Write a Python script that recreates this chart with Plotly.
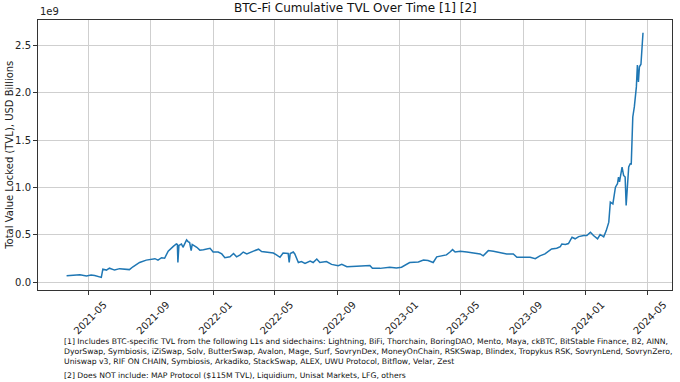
import plotly.graph_objects as go

dates = [
    "2021-03-20", "2021-04-01", "2021-04-15", "2021-04-28", "2021-05-07", "2021-05-14",
    "2021-05-20", "2021-05-27", "2021-05-30", "2021-06-06", "2021-06-12", "2021-06-22",
    "2021-07-02", "2021-07-15", "2021-07-21", "2021-07-28", "2021-08-10", "2021-08-23",
    "2021-09-02", "2021-09-09", "2021-09-15", "2021-09-22", "2021-09-28", "2021-10-05",
    "2021-10-15", "2021-10-21", "2021-10-23", "2021-10-24", "2021-10-26", "2021-10-31",
    "2021-11-03", "2021-11-10", "2021-11-13", "2021-11-16", "2021-11-19", "2021-11-21",
    "2021-11-30", "2021-12-06", "2021-12-13", "2021-12-26", "2022-01-01", "2022-01-11",
    "2022-01-18", "2022-01-24", "2022-02-03", "2022-02-10", "2022-02-16", "2022-02-23",
    "2022-03-01", "2022-03-08", "2022-03-21", "2022-03-31", "2022-04-06", "2022-04-16",
    "2022-04-29", "2022-05-05", "2022-05-12", "2022-05-18", "2022-05-28", "2022-05-30",
    "2022-06-01", "2022-06-07", "2022-06-10", "2022-06-17", "2022-06-23", "2022-06-30",
    "2022-07-10", "2022-07-16", "2022-07-23", "2022-07-29", "2022-08-11", "2022-08-21",
    "2022-09-03", "2022-09-10", "2022-09-20", "2022-10-09", "2022-10-29", "2022-11-04",
    "2022-11-09", "2022-11-24", "2022-12-13", "2022-12-26", "2023-01-05", "2023-01-12",
    "2023-01-21", "2023-02-07", "2023-02-17", "2023-02-26", "2023-03-08", "2023-03-15",
    "2023-03-25", "2023-04-03", "2023-04-10", "2023-04-15", "2023-04-20", "2023-04-30",
    "2023-05-13", "2023-05-26", "2023-06-08", "2023-06-14", "2023-06-24", "2023-07-04",
    "2023-07-17", "2023-07-30", "2023-08-12", "2023-08-19", "2023-09-01", "2023-09-14",
    "2023-09-24", "2023-10-03", "2023-10-13", "2023-10-21", "2023-10-26", "2023-11-05",
    "2023-11-12", "2023-11-15", "2023-11-22", "2023-11-28", "2023-12-05", "2023-12-11",
    "2023-12-18", "2023-12-28", "2024-01-03", "2024-01-10", "2024-01-16", "2024-01-24",
    "2024-01-29", "2024-02-05", "2024-02-10", "2024-02-15", "2024-02-18", "2024-02-23",
    "2024-02-28", "2024-03-03", "2024-03-05", "2024-03-07", "2024-03-12", "2024-03-15",
    "2024-03-18", "2024-03-20", "2024-03-23", "2024-03-25", "2024-03-28", "2024-03-30",
    "2024-04-02", "2024-04-05", "2024-04-09", "2024-04-11", "2024-04-13", "2024-04-15",
    "2024-04-18", "2024-04-22",
]

tvl_1e9 = [
    0.071, 0.074, 0.080, 0.068, 0.078, 0.072,
    0.060, 0.053, 0.140, 0.130, 0.150, 0.130,
    0.145, 0.140, 0.135, 0.165, 0.210, 0.235,
    0.240, 0.250, 0.235, 0.260, 0.255, 0.330,
    0.380, 0.405, 0.400, 0.210, 0.390, 0.405,
    0.370, 0.448, 0.430, 0.420, 0.335, 0.400,
    0.370, 0.340, 0.345, 0.360, 0.320, 0.320,
    0.300, 0.260, 0.270, 0.305, 0.270, 0.290,
    0.320, 0.300, 0.330, 0.350, 0.325, 0.320,
    0.310, 0.290, 0.265, 0.310, 0.305, 0.210,
    0.305, 0.320, 0.300, 0.210, 0.220, 0.200,
    0.225, 0.210, 0.247, 0.210, 0.220, 0.190,
    0.177, 0.190, 0.166, 0.170, 0.180, 0.178,
    0.148, 0.148, 0.160, 0.153, 0.160, 0.180,
    0.210, 0.215, 0.235, 0.230, 0.210, 0.270,
    0.280, 0.290, 0.320, 0.346, 0.320, 0.328,
    0.320, 0.310, 0.300, 0.280, 0.335, 0.328,
    0.310, 0.300, 0.300, 0.265, 0.265, 0.265,
    0.250, 0.280, 0.300, 0.335, 0.353, 0.360,
    0.377, 0.405, 0.400, 0.410, 0.476, 0.460,
    0.483, 0.494, 0.494, 0.529, 0.494, 0.459,
    0.505, 0.480, 0.546, 0.635, 0.846, 0.828,
    1.004, 1.040, 1.110, 1.060, 1.216, 1.127,
    1.110, 0.810, 1.004, 1.216, 1.251, 1.250,
    1.744, 1.850, 2.061, 2.290, 2.114, 2.273,
    2.300, 2.632,
]

x_tick_labels = ["2021-05", "2021-09", "2022-01", "2022-05", "2022-09",
                 "2023-01", "2023-05", "2023-09", "2024-01", "2024-05"]
y_tick_values = [0.0, 0.5, 1.0, 1.5, 2.0, 2.5]

title_text = "BTC-Fi Cumulative TVL Over Time [1] [2]"
y_label = "Total Value Locked (TVL), USD Billions"
note1 = ("[1] Includes BTC-specific TVL from the following L1s and sidechains: Lightning, BiFi, Thorchain, BoringDAO, Mento, Maya, ckBTC, BitStable Finance, B2, AINN,<br>"
         "DyorSwap, Symbiosis, iZiSwap, Solv, ButterSwap, Avalon, Mage, Surf, SovrynDex, MoneyOnChain, RSKSwap, Blindex, Tropykus RSK, SovrynLend, SovrynZero,<br>"
         "Uniswap v3, RIF ON CHAIN, Symbiosis, Arkadiko, StackSwap, ALEX, UWU Protocol, Bitflow, Velar, Zest")
note2 = "[2] Does NOT include: MAP Protocol ($115M TVL), Liquidium, Unisat Markets, LFG, others"

FONT = "DejaVu Sans"

fig = go.Figure()
fig.add_trace(go.Scatter(x=dates, y=tvl_1e9, mode="lines",
                         line=dict(color="#1f77b4", width=1.5), showlegend=False))

axis_common = dict(showline=True, linecolor="#333333", linewidth=1, mirror=True,
                   ticks="outside", ticklen=4, tickcolor="#333333", tickwidth=1,
                   showgrid=True, gridcolor="#cfcfcf", gridwidth=1, zeroline=False,
                   automargin=False,
                   tickfont=dict(family=FONT, size=10, color="#222222"))

fig.update_xaxes(type="date", range=["2021-01-23", "2024-06-17 19:00"],
                 tickvals=[t + "-01" for t in x_tick_labels], ticktext=x_tick_labels,
                 tickangle=-45, ticklabelshift=16, **axis_common)
fig.update_yaxes(range=[-0.08, 2.766], tickvals=y_tick_values,
                 ticktext=[f"{v:.1f}" for v in y_tick_values], **axis_common)

fig.update_layout(
    width=680, height=382,
    margin=dict(l=38, r=8, t=20, b=92),
    paper_bgcolor="white", plot_bgcolor="white",
    font=dict(family=FONT, color="#222222"),
    annotations=[
        dict(text=title_text, xref="paper", yref="paper", x=0.5, y=1, yshift=3,
             xanchor="center", yanchor="bottom", showarrow=False,
             font=dict(family=FONT, size=12, color="#111111")),
        dict(text="1e9", xref="paper", yref="paper", x=0, y=1, yshift=1,
             xanchor="left", yanchor="bottom", showarrow=False,
             font=dict(family=FONT, size=10, color="#222222")),
        dict(text=y_label, xref="paper", yref="paper", x=-0.046, y=0.5,
             xanchor="center", yanchor="middle", textangle=-90, showarrow=False,
             font=dict(family=FONT, size=10, color="#222222")),
        dict(text=note1, xref="paper", yref="paper", x=0.038, y=-0.168,
             xanchor="left", yanchor="top", align="left", showarrow=False,
             font=dict(family=FONT, size=7.7, color="#111111")),
        dict(text=note2, xref="paper", yref="paper", x=0.038, y=-0.292,
             xanchor="left", yanchor="top", align="left", showarrow=False,
             font=dict(family=FONT, size=7.7, color="#111111")),
    ],
)

fig.write_html("out.html",
               config={"displayModeBar": False},
               post_script="document.body.style.margin='0';document.body.style.overflow='hidden';")
